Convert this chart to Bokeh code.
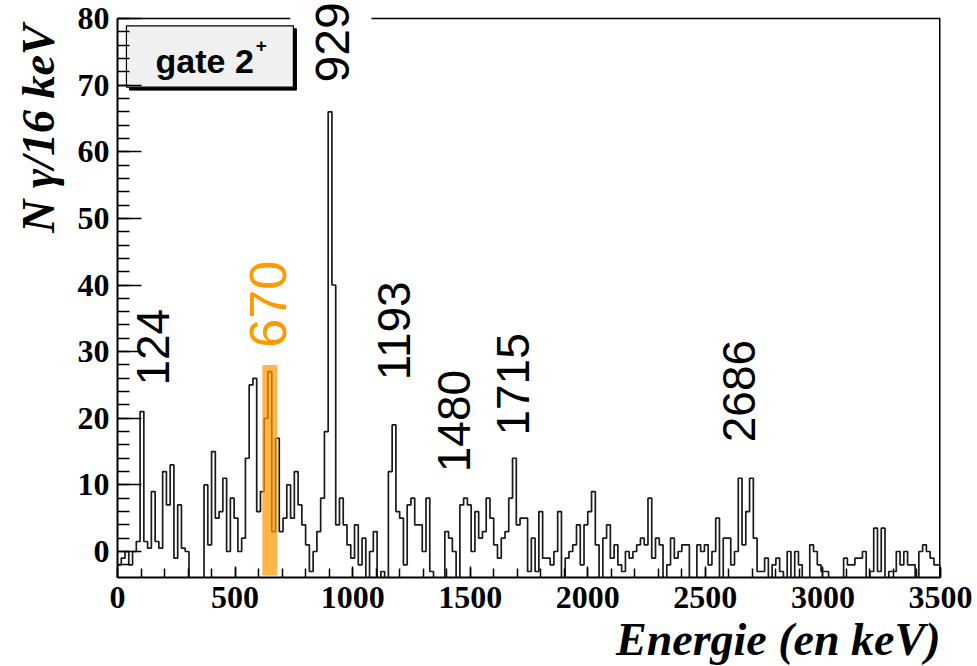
import numpy as np
from bokeh.plotting import figure
from bokeh.models import Range1d, FixedTicker, ColumnDataSource, Title
from bokeh.embed import file_html
from bokeh.resources import INLINE
from bokeh.core.properties import value

# ---------------- data ----------------
bin_width = 16  # keV per bin
counts = [
    -2, -1, 0, -2, 0, 1.5, 21, 1.5, 0.5, 9,
    1.5, 0.5, 12, 7, 13, -1, 7, 0.5, 0, -5,
    -5, -5, -5, 10, 1, 15, 5, 6, 11, 0,
    8, 5, 0, 2, 14, 25, 26, 6, 9, 20,
    27, 3, 17, 3, 5, 10, 5, 12, 7, 4,
    1, -3, 0, 3, 8, 18, 66, 40, 4, 8,
    4, 1, -1, 4, -2, 2, -5, 0, 3, -5,
    -3, -5, 12, 19, 6, 5, -2, 7, 8, 4,
    4, 0, 8, -3, -5, -5, -5, 3, 2, 0,
    -5, 7, 8, 7, 0, 6, 2, 3, 8, 5,
    1, -1, 2, 3, 8, 14, 4, 5, 5, -3,
    2, -3, 6, -1, -1, -2, 0, 6, -5, -1,
    0, 1, 4, -2, 4, 6, 9, 1, -5, 2,
    4, -1, 1, -2, -3, 0, -1, 0, 1, 2,
    1, 8, -1, 2, 1, -5, -2, 2, -1, 0,
    1, 1, -5, -5, 1, 0, 1, -2, 0, 5,
    -5, 2, 2, -2, 0, 11, 1, 6, 11, 2,
    -3, -3, -1, -5, -2, -1, -3, -5, 0, -5,
    0, -2, -5, -5, 1, 0, -2, -3, -3, -5,
    -5, -5, -5, -1, -2, -2, -1, -1, 0, -5,
    -3, 3.5, -3, 3.5, -5, -3, -3, 0, -2, 0,
    -2, -2, -5, 0, 1, 0, -1, -2, -2,
]
peak_labels = ["124", "670", "929", "1193", "1480", "1715", "2686"]
gate_low, gate_high, gate_top = 616, 680, 28
x_ticks = [0, 500, 1000, 1500, 2000, 2500, 3000, 3500]
y_ticks = [0, 10, 20, 30, 40, 50, 60, 70, 80]

# ---------------- layout ----------------
x_min, x_max = 0, 3500
y_min, y_top = -3.9, 80
px_per_unit = 6.6625
y_max = y_top + 18 / px_per_unit   # frame extends to canvas top; 80 sits 18 px below it

p = figure(width=977, height=666, output_backend="svg", toolbar_location=None,
           x_range=Range1d(x_min, x_max), y_range=Range1d(y_min, y_max),
           min_border_left=117, min_border_right=37, min_border_top=0,
           min_border_bottom=89)
p.background_fill_color = "white"
p.border_fill_color = "white"
p.outline_line_color = None
p.xgrid.visible = False
p.ygrid.visible = False

edges = np.arange(len(counts) + 1) * bin_width
yvals = list(counts) + [counts[-1]]
p.step(x=edges, y=yvals, mode="after", line_color="#1a1a1a", line_width=1.7)

# gate band
p.quad(left=[gate_low], right=[gate_high], bottom=[-3.6], top=[gate_top],
       fill_color="#FF9900", fill_alpha=0.72, line_color=None)

# peak labels
label_x = [153, 642, 915, 1174, 1433, 1680, 2645]
label_y = [24.9, 30.6, 70.4, 25.7, 11.9, 17.4, 16.4]
label_col = ["black", "#FF9900", "black", "black", "black", "black", "black"]
label_size = ["46px", "52px", "48px", "46px", "46px", "46px", "46px"]
src = ColumnDataSource(dict(x=label_x, y=label_y, t=peak_labels, c=label_col, s=label_size))
p.text(x="x", y="y", text="t", text_color="c", text_font_size="s", source=src,
       angle=np.pi / 2, text_font=value("Liberation Sans"),
       text_align="left", text_baseline="middle")

# frame: top line (interrupted behind the 929 label) and right line
gap_c = label_x[2]
p.segment(x0=[x_min, gap_c + 165], x1=[gap_c - 180, x_max], y0=[y_top, y_top], y1=[y_top, y_top],
          line_color="black", line_width=1.5)
p.segment(x0=[x_max], x1=[x_max], y0=[y_min], y1=[y_top], line_color="black", line_width=3)

# gate box (pave with shadow)
bx0, bx1, by0, by1 = 38, 748, 69.7, 78.9
p.quad(left=[bx0 + 13], right=[bx1 + 13], bottom=[by0 - 0.45], top=[by1 - 0.45],
       fill_color="black", line_color="black")
p.quad(left=[bx0], right=[bx1], bottom=[by0], top=[by1],
       fill_color="#F0F0F0", line_color="black", line_width=1.2)
p.text(x=[162], y=[73.6], text=["gate 2"], text_font=value("Liberation Sans"),
       text_font_style="bold", text_font_size=value("34px"),
       text_align="left", text_baseline="alphabetic", text_color="black")
p.text(x=[588], y=[76.0], text=["+"], text_font=value("Liberation Sans"),
       text_font_style="bold", text_font_size=value("19px"),
       text_align="left", text_baseline="alphabetic", text_color="black")

# axes
p.xaxis.ticker = FixedTicker(ticks=x_ticks, minor_ticks=list(range(0, 3501, 100)))
p.yaxis.ticker = FixedTicker(ticks=y_ticks, minor_ticks=list(range(-2, 81, 2)))
p.yaxis.bounds = (y_min, y_top)
for ax in (p.xaxis, p.yaxis):
    ax.major_label_text_font = "Liberation Serif"
    ax.major_label_text_font_style = "bold"
    ax.major_label_text_font_size = "32px"
    ax.major_label_text_color = "black"
    ax.axis_line_color = "black"
    ax.axis_line_width = 2
    ax.major_tick_line_color = "black"
    ax.minor_tick_line_color = "black"
    ax.major_tick_line_width = 1.5
    ax.minor_tick_line_width = 1.5
    ax.major_tick_out = 0
    ax.minor_tick_out = 0
p.xaxis.major_tick_in = 11
p.xaxis.minor_tick_in = 9
p.yaxis.major_tick_in = 24
p.yaxis.minor_tick_in = 12
p.xaxis.major_label_standoff = 9
p.yaxis.major_label_standoff = 8

# axis titles
p.add_layout(Title(text="Energie (en keV)", align="right", text_font="Liberation Serif",
                   text_font_style="bold italic", text_font_size="46px",
                   text_color="black", standoff=2), "below")
p.add_layout(Title(text="N γ/16 keV", align="right", offset=24, text_font="Liberation Serif",
                   text_font_style="bold italic", text_font_size="46px",
                   text_color="black", standoff=21), "left")

open("out.html", "w").write(file_html(p, INLINE))
